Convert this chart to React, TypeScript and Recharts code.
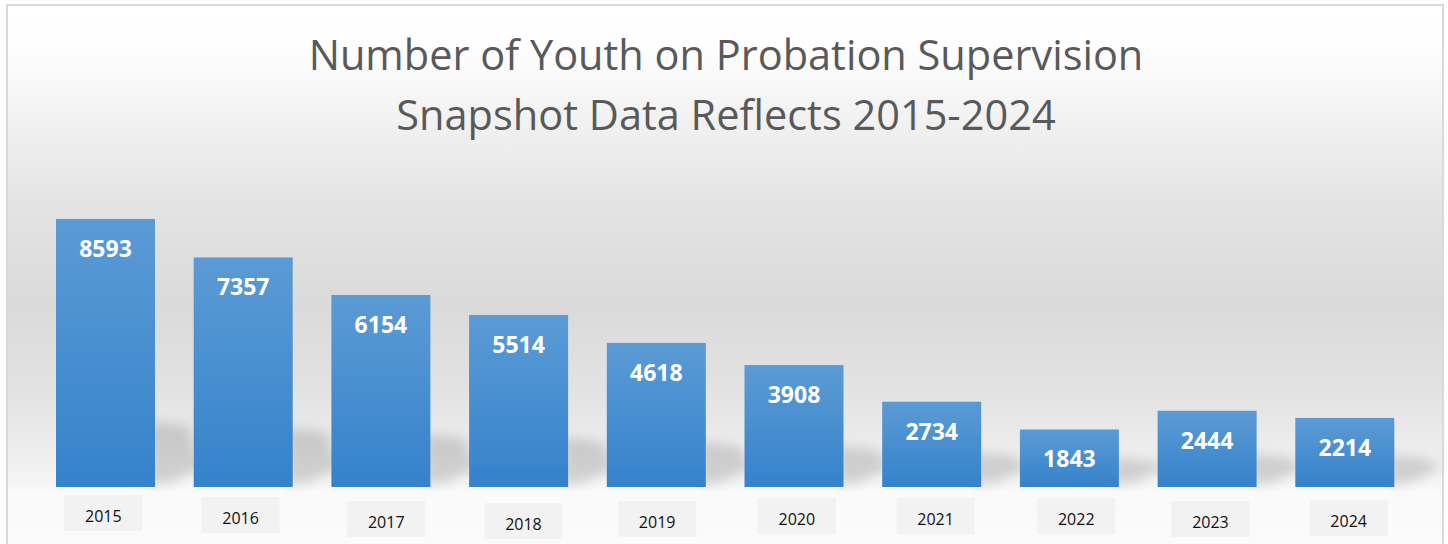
import React from "react";
import { BarChart, Bar, XAxis, YAxis, LabelList } from "recharts";

const years = ["2015", "2016", "2017", "2018", "2019", "2020", "2021", "2022", "2023", "2024"];
const youthCounts = [8593, 7357, 6154, 5514, 4618, 3908, 2734, 1843, 2444, 2214];
const titleLines = ["Number of Youth on Probation Supervision", "Snapshot Data Reflects 2015-2024"];

const data = years.map((year, i) => ({ year, count: youthCounts[i] }));

// the year boxes sit a little uneven, like in the original slide
const boxDx = [-2.5, -3, 5, 4.5, 0.5, 2.5, 3.5, 6.5, 3, 3.5];
const boxDy = [8, 10, 14, 16, 14, 11, 11, 11, 14, 13];

const FONT = "'Open Sans', 'Noto Sans', sans-serif";

function YearTick(props: any) {
  const { x, y, payload, index } = props;
  const cx = x + (boxDx[index] ?? 0);
  const top = y + (boxDy[index] ?? 8);
  return (
    <g>
      <rect x={cx - 39} y={top} width={78} height={36} fill="#f2f2f2" />
      <text x={cx} y={top + 27} textAnchor="middle" fontSize={16} fontFamily={FONT} fill="#111">
        {payload.value}
      </text>
    </g>
  );
}

function ShadowBar(props: any) {
  const { x, y, width, height } = props;
  const b = y + height;
  const top = b - (20 + 0.17 * height);
  const r = x + width;
  const pts = [
    [r - 6, top],
    [r + 34, top + 4],
    [r + 46, b - 18],
    [r + 14, b - 4],
    [r - 6, b - 2],
  ]
    .map((p) => p.join(","))
    .join(" ");
  return (
    <g>
      <polygon points={pts} fill="#000" opacity={0.14} filter="url(#barShadowBlur)" />
      <rect x={x} y={y} width={width} height={height} fill="url(#barFill)" />
    </g>
  );
}

function ValueLabel(props: any) {
  const { x, y, width, value } = props;
  return (
    <text
      x={x + width / 2}
      y={y + 38}
      textAnchor="middle"
      fontSize={23}
      fontWeight={700}
      fontFamily={FONT}
      fill="#ffffff"
    >
      {value}
    </text>
  );
}

export default function App() {
  return (
    <div
      style={{
        position: "fixed",
        left: 0,
        top: 0,
        width: 1448,
        height: 544,
        overflow: "hidden",
        background: "#ffffff",
      }}
    >
      <div
        style={{
          position: "absolute",
          left: 6,
          top: 4,
          width: 1434,
          height: 600,
          border: "2px solid #d9d9d9",
          background:
            "linear-gradient(to bottom, #ffffff 0px, #fefefe 40px, #f4f4f4 100px, #e3e3e3 200px, #dadada 300px, #e2e2e2 380px, #ececec 440px, #f5f5f5 478px, #fafafa 486px, #fbfbfb 600px)",
        }}
      />
      <div
        style={{
          position: "absolute",
          left: 0,
          top: 24,
          width: 1452,
          textAlign: "center",
          fontFamily: FONT,
          fontSize: 41.5,
          lineHeight: "60px",
          color: "#595959",
        }}
      >
        {titleLines.map((t) => (
          <div key={t}>{t}</div>
        ))}
      </div>
      <div style={{ position: "absolute", left: 0, top: 0 }}>
        <BarChart
          width={1448}
          height={544}
          data={data}
          margin={{ top: 175, right: 34, bottom: 0, left: 37 }}
        >
          <defs>
            <linearGradient id="barFill" x1="0" y1="0" x2="0" y2="1">
              <stop offset="0%" stopColor="#5b9bd5" />
              <stop offset="100%" stopColor="#3582cb" />
            </linearGradient>
            <filter id="barShadowBlur" x="-50%" y="-50%" width="200%" height="200%">
              <feGaussianBlur stdDeviation="6" />
            </filter>
          </defs>
          <XAxis
            dataKey="year"
            axisLine={false}
            tickLine={false}
            tickSize={0}
            tickMargin={0}
            height={57}
            interval={0}
            tick={<YearTick />}
          />
          <YAxis hide domain={[0, 10000]} />
          <Bar dataKey="count" barSize={99} shape={<ShadowBar />} isAnimationActive={false}>
            <LabelList dataKey="count" content={<ValueLabel />} />
          </Bar>
        </BarChart>
      </div>
    </div>
  );
}
